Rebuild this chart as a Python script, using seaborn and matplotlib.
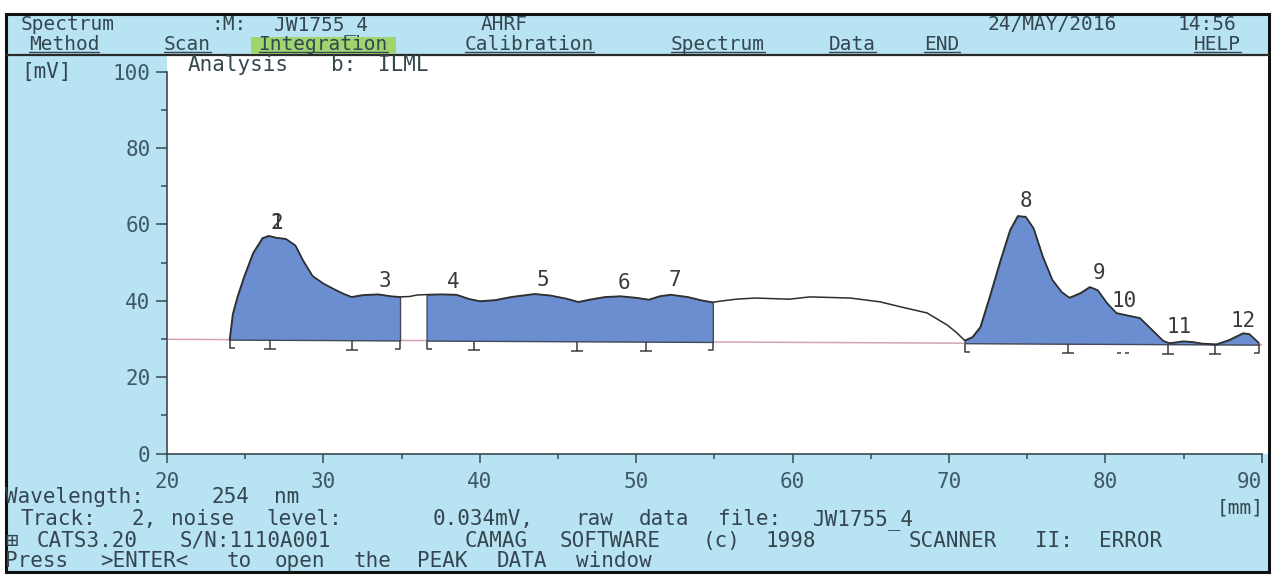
import numpy as np
import matplotlib
matplotlib.use("Agg")
import matplotlib.pyplot as plt
import seaborn as sns
from matplotlib.path import Path
from matplotlib.patches import Rectangle
from matplotlib.lines import Line2D

# ---------------- data ----------------
position_mm = [24.0, 24.2, 24.5, 24.9, 25.5, 26.1, 26.5, 27.0, 27.6, 28.2, 28.7, 29.3,
               30.0, 30.7, 31.3, 31.8, 32.5, 33.5, 34.3, 34.9, 35.5, 36.0, 36.6, 37.5,
               38.5, 39.3, 40.0, 41.0, 42.0, 43.5, 44.5, 45.5, 46.3, 47.0, 48.0, 49.0,
               50.0, 50.8, 51.5, 52.2, 53.3, 54.2, 54.9, 55.4, 56.4, 57.6, 59.8, 61.1,
               63.7, 65.6, 66.9, 68.6, 69.9, 70.5, 71.0, 71.5, 72.0, 72.6, 73.3, 73.9,
               74.4, 74.9, 75.4, 76.0, 76.6, 77.2, 77.7, 78.4, 79.0, 79.5, 80.1, 80.7,
               81.6, 82.2, 83.0, 83.7, 84.1, 85.0, 85.6, 86.2, 87.1, 87.9, 88.8, 89.2,
               89.8]
signal_mv = [29.8, 36.5, 41.0, 46.0, 52.5, 56.4, 57.0, 56.5, 56.2, 54.5, 50.5, 46.5,
             44.5, 43.0, 41.8, 41.0, 41.5, 41.7, 41.2, 41.0, 41.1, 41.5, 41.6, 41.7,
             41.6, 40.5, 39.9, 40.2, 41.0, 41.8, 41.4, 40.6, 39.7, 40.3, 41.0, 41.2,
             40.8, 40.3, 41.2, 41.6, 41.0, 40.1, 39.6, 39.9, 40.4, 40.7, 40.4, 41.0,
             40.7, 39.7, 38.4, 36.8, 33.6, 31.6, 29.6, 30.5, 33.1, 41.0, 50.7, 58.5,
             62.2, 62.0, 59.0, 51.5, 45.5, 42.3, 40.8, 42.0, 43.6, 42.8, 39.4, 36.8,
             36.0, 35.5, 32.3, 29.5, 28.9, 29.4, 29.2, 28.8, 28.6, 29.7, 31.5, 31.3,
             29.0]
baseline_mm = [20.0, 90.0]
baseline_mv = [29.9, 28.5]

segment_start_mm = [24.0, 36.6, 71.0]
segment_end_mm = [34.9, 54.9, 89.8]
split_mm = [26.6, 31.8, 39.6, 46.2, 50.6, 77.6, 84.0, 87.0]
weak_split_mm = [81.1]

peak_labels = ["1", "2", "3", "4", "5", "6", "7", "8", "9", "10", "11", "12"]
peak_label_mm = [27.0, 27.0, 33.9, 38.3, 44.0, 49.2, 52.5, 74.9, 79.6, 81.2, 84.7, 88.8]
peak_label_mv = [60.3, 60.3, 45.2, 44.9, 45.3, 44.6, 45.3, 66.0, 47.3, 40.0, 33.1, 34.7]

x_ticks = [20, 30, 40, 50, 60, 70, 80, 90]
x_minor = [25, 35, 45, 55, 65, 75, 85]
y_ticks = [0, 20, 40, 60, 80, 100]
y_minor = [10, 30, 50, 70, 90]

header_row1 = [(1, "Spectrum"), (13, ":M:"), (17, "JW1755_4"), (30, "AHRF"),
               (62, "24/MAY/2016"), (74, "14:56")]
menu_row = [(1.5, "Method"), (10, "Scan"), (16, "Integration"), (29, "Calibration"),
            (42, "Spectrum"), (52, "Data"), (58, "END"), (75, "HELP")]
wave_row = [(0, "Wavelength:"), (13, "254"), (17, "nm")]
track_row = [(1, "Track:"), (8, "2,"), (10.5, "noise"), (16.5, "level:"), (27, "0.034mV,"),
             (36, "raw"), (40, "data"), (45, "file:"), (51, "JW1755_4")]
cats_row = [(0, "\u229e"), (2, "CATS3.20"), (11, "S/N:1110A001"), (29, "CAMAG"),
            (35, "SOFTWARE"), (44, "(c)"), (48, "1998"), (57, "SCANNER"), (65, "II:"),
            (69, "ERROR")]
press_row = [(0, "Press"), (6, ">ENTER<"), (14, "to"), (17, "open"), (22, "the"),
             (26, "PEAK"), (31, "DATA"), (36, "window")]

# ---------------- style ----------------
sns.set_theme(style="white")
plt.rcParams['font.family'] = ['DejaVu Sans Mono', 'DejaVu Sans']

W, H = 1272, 575
SCREEN = '#b8e3f3'
INK = '#34464f'
TICKINK = '#3e5a66'
AXIS = '#3a4a50'
FILL = '#6a8ecf'
LINE = '#2e2e2e'
PINK = '#d3a2b6'
GREEN = '#9fd46e'
FS = 15
HFS = 14

fig = plt.figure(figsize=(W / 100, H / 100), dpi=100)
fig.patch.set_facecolor('white')


def fx(px):
    return px / W


def fy(py):
    return 1 - py / H


def col(c):
    return 5 + 15.85 * c


fig.add_artist(Rectangle((fx(6), fy(572)), fx(1269) - fx(6), fy(14) - fy(572),
                         transform=fig.transFigure, facecolor=SCREEN,
                         edgecolor='#111111', lw=2.2, zorder=-5))
fig.add_artist(Line2D([fx(6), fx(1269)], [fy(55), fy(55)], transform=fig.transFigure,
                      color='#2a2a2a', lw=1.6, zorder=3))

ax = fig.add_axes([fx(167), fy(453.5), fx(1268) - fx(167), fy(55.5) - fy(453.5)])
ax.set_facecolor('white')
ax.set_xlim(20, 90.4)
ax.set_ylim(0, 104.2)

x = np.array(position_mm)
y = np.array(signal_mv)
base = np.interp(x, baseline_mm, baseline_mv)

# baseline
sns.lineplot(x=baseline_mm, y=baseline_mv, ax=ax, color=PINK, lw=1.1,
             estimator=None, sort=False, zorder=2)
# integrated areas
for s, e in zip(segment_start_mm, segment_end_mm):
    m = (x >= s - 1e-9) & (x <= e + 1e-9)
    ax.fill_between(x[m], base[m], y[m], facecolor=FILL, edgecolor='#404a5a',
                    lw=1.0, zorder=3)
# densitogram
sns.lineplot(x=position_mm, y=signal_mv, ax=ax, color=LINE, lw=1.1,
             estimator=None, sort=False, zorder=4)

# integration marks
M, L = Path.MOVETO, Path.LINETO
split_path = Path([(0, 4.5), (0, -4.5), (-6, -4.5), (6, -4.5)], [M, L, M, L])
start_path = Path([(0, 4.5), (0, -4.5), (5, -4.5)], [M, L, L])
end_path = Path([(0, 4.5), (0, -4.5), (-5, -4.5)], [M, L, L])
dash_path = Path([(-6, -4.5), (-2, -4.5), (2, -4.5), (6, -4.5)], [M, L, M, L])
off = 4.5 / 3.82
for xs, path, mx in [(segment_start_mm, start_path, 5), (segment_end_mm, end_path, 5),
                     (split_mm, split_path, 6), (weak_split_mm, dash_path, 6)]:
    xs = np.array(xs)
    ys = np.interp(xs, baseline_mm, baseline_mv) - off
    ax.plot(xs, ys, linestyle='none', marker=path, ms=1.44 * mx, mfc='none',
            mec='#3c3c3c', mew=1.1, zorder=5)

for lab, px_, py_ in zip(peak_labels, peak_label_mm, peak_label_mv):
    ax.text(px_, py_, lab, ha='center', va='center', fontsize=FS, color='#3a3a3a', zorder=6)

# axes styling
for side in ['top', 'right']:
    ax.spines[side].set_visible(False)
for side in ['left', 'bottom']:
    ax.spines[side].set_color(AXIS)
    ax.spines[side].set_linewidth(1.2)
ax.spines['left'].set_bounds(0, 100)
ax.spines['bottom'].set_bounds(20, 90)
ax.set_xticks(x_ticks)
ax.set_xticks(x_minor, minor=True)
ax.set_yticks(y_ticks)
ax.set_yticks(y_minor, minor=True)
ax.set_xticklabels([str(t) for t in x_ticks])
ax.set_yticklabels([str(t) for t in y_ticks])
ax.tick_params(axis='x', which='major', bottom=True, direction='out', length=6.5,
               width=1.1, color=AXIS, pad=7, labelsize=FS, labelcolor=TICKINK)
ax.tick_params(axis='x', which='minor', bottom=True, direction='out', length=3.6,
               width=1.1, color=AXIS)
ax.tick_params(axis='y', which='major', left=True, direction='out', length=7.9,
               width=1.1, color=AXIS, pad=4, labelsize=FS, labelcolor=TICKINK)
ax.tick_params(axis='y', which='minor', left=True, direction='out', length=4.3,
               width=1.1, color=AXIS)
ax.get_xticklabels()[-1].set_horizontalalignment('right')
ax.set_xlabel('')
ax.set_ylabel('')
ax.grid(False)

# screen text
def put(tokens, base_py, color=INK, use_col=True, size=FS):
    out = []
    for c, tok in tokens:
        px_ = col(c) if use_col else c
        out.append(fig.text(fx(px_), fy(base_py), tok, ha='left', va='baseline',
                            fontsize=size, color=color, zorder=6))
    return out

put(header_row1, 30, size=HFS)
menu_texts = put(menu_row, 50, size=HFS)
put([(1, "[mV]")], 78)
put([(188, "Analysis"), (331, "b:"), (378, "ILML")], 71, use_col=False)
put(wave_row, 503)
fig.text(fx(1264), fy(513), "[mm]", ha='right', va='baseline', fontsize=FS - 1, color=INK)
put(track_row, 525)
put(cats_row, 547)
put(press_row, 567)

fig.canvas.draw()
r = fig.canvas.get_renderer()
for t in menu_texts:
    bb = t.get_window_extent(r)
    if t.get_text() == "Integration":
        fig.add_artist(Rectangle((fx(bb.x0 - 8), fy(53.5)), (bb.width + 16) / W, 16.5 / H,
                                 transform=fig.transFigure, facecolor=GREEN,
                                 edgecolor='none', zorder=4))
    fig.add_artist(Line2D([bb.x0 / W, bb.x1 / W], [fy(52.3), fy(52.3)],
                          transform=fig.transFigure, color=INK, lw=1.0, zorder=7))

fig.savefig("out.png", dpi=100, facecolor='white')
